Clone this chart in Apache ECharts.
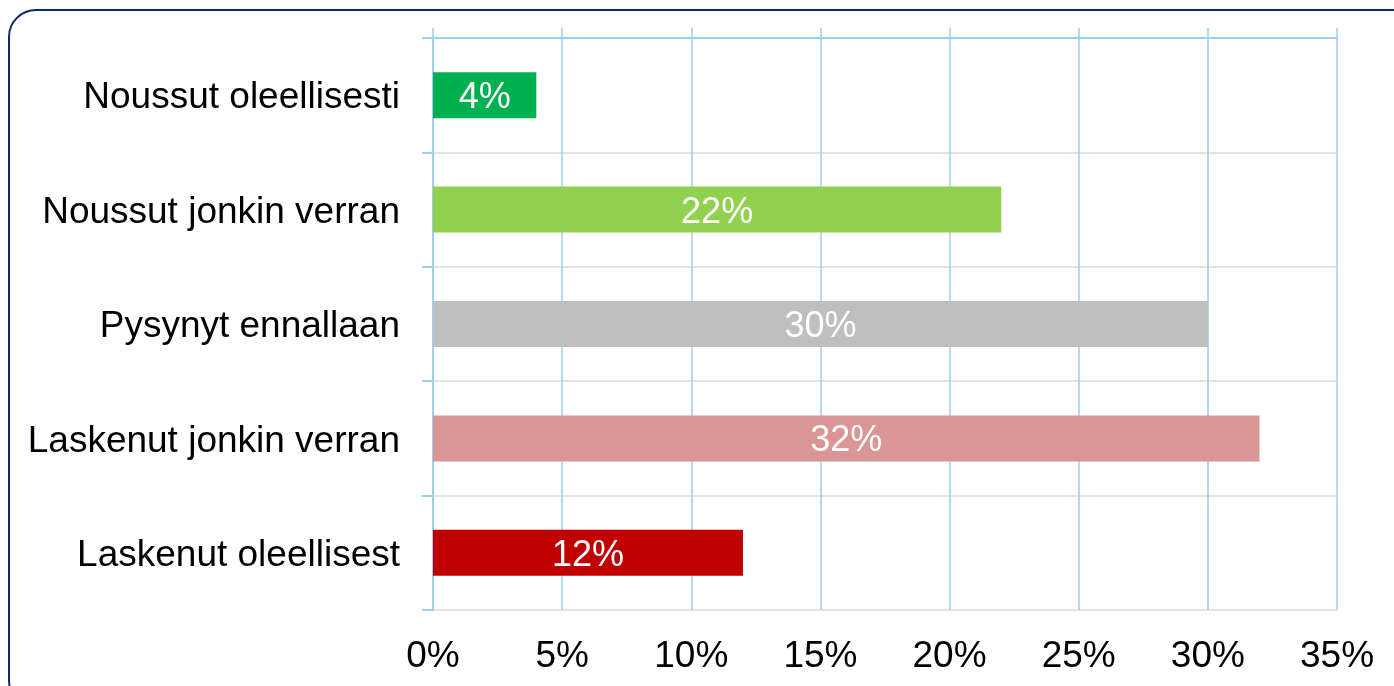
<!DOCTYPE html>
<html>
<head>
<meta charset="utf-8">
<script src="https://cdn.jsdelivr.net/npm/echarts@6/dist/echarts.min.js"></script>
<style>
  html, body { margin: 0; padding: 0; background: #fff; overflow: hidden; }
  #frame {
    position: absolute; left: 8px; top: 9px; width: 1420px; height: 700px;
    border: 2.5px solid #0b2868; border-radius: 28px; box-sizing: border-box;
  }
  #chart { position: absolute; left: 0; top: 0; width: 1394px; height: 686px; }
</style>
</head>
<body>
<div id="frame"></div>
<div id="chart"></div>
<script>
const categories = [
  "Noussut oleellisesti",
  "Noussut jonkin verran",
  "Pysynyt ennallaan",
  "Laskenut jonkin verran",
  "Laskenut oleellisest"
];
const values = [4, 22, 30, 32, 12];
const barColors = ["#00b050", "#92d050", "#bfbfbf", "#d99694", "#c00000"];

const font = "'Liberation Sans', Arial, sans-serif";
const gridBlue = "#9dcdf0";

const chart = echarts.init(document.getElementById("chart"));

const option = {
  animation: false,
  grid: { left: 433, right: 57, top: 38, bottom: 76 },
  xAxis: [
    {
      type: "value",
      position: "bottom",
      min: 0,
      max: 35,
      interval: 5,
      axisLine: { show: false },
      axisTick: { show: false },
      splitLine: { show: true, lineStyle: { color: gridBlue, width: 1.5 } },
      axisLabel: {
        formatter: "{value}%",
        fontSize: 37,
        fontFamily: font,
        color: "#000",
        margin: 28
      }
    },
    {
      type: "value",
      position: "top",
      min: 0,
      max: 35,
      interval: 5,
      axisLine: { show: true, lineStyle: { color: gridBlue, width: 2 } },
      axisTick: { show: true, length: 10, lineStyle: { color: gridBlue, width: 1.5 } },
      splitLine: { show: false },
      axisLabel: { show: false }
    }
  ],
  yAxis: {
    type: "category",
    data: categories,
    inverse: true,
    axisLine: { show: true, lineStyle: { color: gridBlue, width: 2 } },
    axisTick: { show: true, length: 11, lineStyle: { color: gridBlue, width: 2 } },
    splitLine: { show: true, lineStyle: { color: "#e3e3e3", width: 2 } },
    axisLabel: {
      fontSize: 37,
      fontFamily: font,
      color: "#000",
      margin: 33,
      formatter: (v) => "{t|" + v + "}",
      rich: {
        t: { fontSize: 37, fontFamily: font, color: "#000", padding: [6, 0, 0, 0] }
      }
    }
  },
  series: [
    {
      type: "bar",
      xAxisIndex: 0,
      data: values.map((v, i) => ({ value: v, itemStyle: { color: barColors[i] } })),
      barWidth: 46,
      label: {
        show: true,
        position: "inside",
        formatter: "{c}%",
        color: "#fff",
        fontSize: 36,
        fontFamily: font,
        offset: [0, 3]
      }
    }
  ]
};

chart.setOption(option);
</script>
</body>
</html>
